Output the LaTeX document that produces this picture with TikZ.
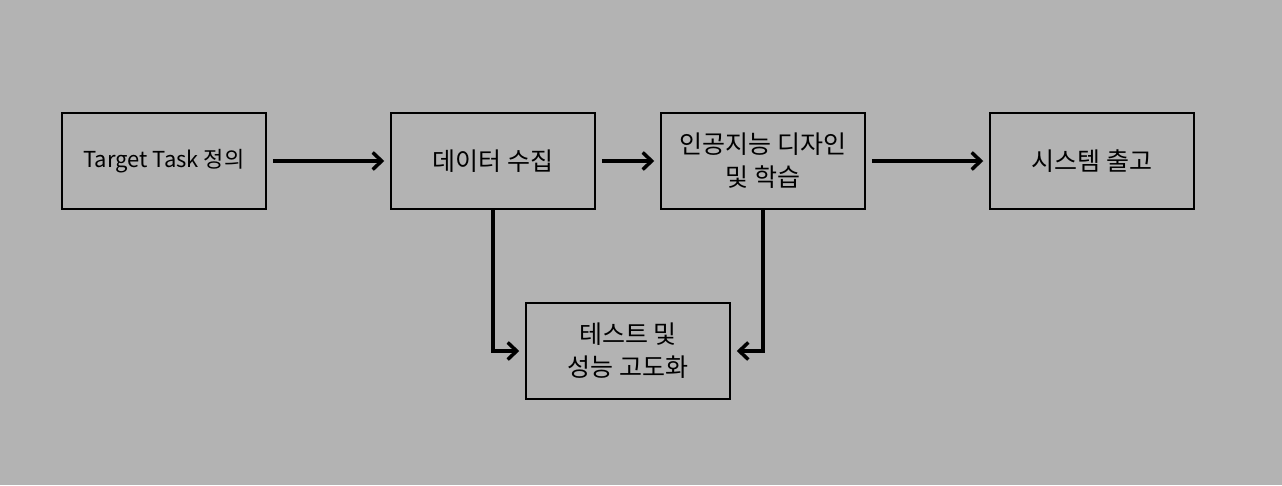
\documentclass[tikz,border=0pt]{standalone}
\usepackage{fontspec}
\setmainfont{Noto Sans CJK KR}
\usepackage{tikz}
\usetikzlibrary{arrows.meta,positioning}
\definecolor{bggray}{RGB}{179,179,179}

\begin{document}
\begin{tikzpicture}[x=1pt,y=-1pt,font=\fontsize{25}{33}\selectfont,
    stagebox/.style={draw,line width=1.5pt,minimum width=204pt,minimum height=96pt,
      inner sep=0pt,align=center},
    flow/.style={line width=3.5pt,-{Straight Barb[length=9pt,width=17pt]}}]
  % background
  \fill[bggray] (0,0) rectangle (1282,485);
  \useasboundingbox (0,0) rectangle (1282,485);
  % stages
  \node[stagebox,font=\fontsize{22}{26}\selectfont] (task) at (164,161) {Target Task 정의};
  \node[stagebox] (data) at (493,161) {데이터 수집};
  \node[stagebox] (ai) at (763,161) {인공지능 디자인\\ 및 학습};
  \node[stagebox] (ship) at (1092,161) {시스템 출고};
  \node[stagebox] (test) at (628,351) {테스트 및\\ 성능 고도화};
  % flow
  \draw[flow,shorten <=6pt,shorten >=6pt] (task) -- (data);
  \draw[flow,shorten <=6pt,shorten >=6pt] (data) -- (ai);
  \draw[flow,shorten <=6pt,shorten >=6pt] (ai) -- (ship);
  \draw[flow,shorten >=6pt] (data.south) |- (test.west);
  \draw[flow,shorten >=6pt] (ai.south) |- (test.east);
\end{tikzpicture}
\end{document}
